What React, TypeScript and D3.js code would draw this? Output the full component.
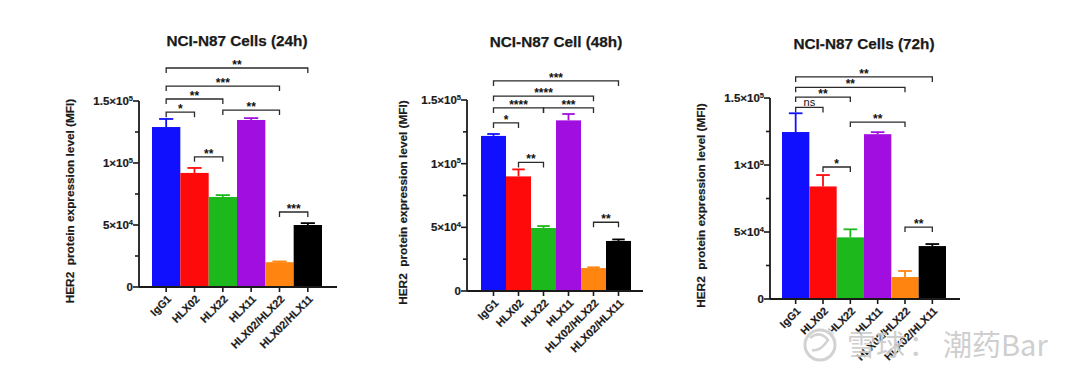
import React from "react";
import * as d3 from "d3";

const categories = ["IgG1", "HLX02", "HLX22", "HLX11", "HLX02/HLX22", "HLX02/HLX11"];
const barColors = ["#1010ff", "#ff0a0a", "#1cb81c", "#a00ee0", "#ff8410", "#000000"];

const yTicksMajor = [0, 50000, 100000, 150000];
const yTickMantissa = ["0", "5×10", "1×10", "1.5×10"];
const yTickExp = ["", "4", "5", "5"];
const yTicksMinor = [25000, 75000, 125000];

const titles = ["NCI-N87 Cells (24h)", "NCI-N87 Cell (48h)", "NCI-N87 Cells (72h)"];

const means24 = [129000, 92000, 72600, 134700, 20000, 50000];
const err24 = [6500, 4000, 1500, 1500, 600, 1500];
const means48 = [121800, 90000, 49500, 134000, 18000, 39300];
const err48 = [1500, 5500, 1500, 5000, 600, 1200];
const means72 = [124600, 84000, 46000, 123000, 16400, 39500];
const err72 = [14000, 8500, 6000, 1500, 4500, 1500];

// [from, to, bracket level (MFI), label]
const brackets24: [string, string, number, string][] = [
  ["IgG1", "HLX02/HLX11", 176600, "**"],
  ["IgG1", "HLX02/HLX22", 162000, "***"],
  ["IgG1", "HLX22", 151600, "**"],
  ["IgG1", "HLX02", 141000, "*"],
  ["HLX22", "HLX02/HLX22", 142700, "**"],
  ["HLX02", "HLX22", 105000, "**"],
  ["HLX02/HLX22", "HLX02/HLX11", 60500, "***"],
];
const brackets48: [string, string, number, string][] = [
  ["IgG1", "HLX02/HLX11", 165000, "***"],
  ["IgG1", "HLX02/HLX22", 153000, "****"],
  ["IgG1", "HLX22", 143800, "****"],
  ["HLX22", "HLX02/HLX22", 143800, "***"],
  ["IgG1", "HLX02", 132000, "*"],
  ["HLX02", "HLX22", 101000, "**"],
  ["HLX02/HLX22", "HLX02/HLX11", 54000, "**"],
];
const brackets72: [string, string, number, string][] = [
  ["IgG1", "HLX02/HLX11", 165700, "**"],
  ["IgG1", "HLX02/HLX22", 158000, "**"],
  ["IgG1", "HLX22", 150700, "**"],
  ["IgG1", "HLX02", 143000, "ns"],
  ["HLX22", "HLX02/HLX22", 132000, "**"],
  ["HLX02", "HLX22", 98500, "*"],
  ["HLX02/HLX22", "HLX02/HLX11", 53700, "**"],
];

const layouts = [
  { axisX: 139, xEnd: 337, barL: 152, barR: 322, y0: 287, yTop: 101, labelX: 70, titleY: 46 },
  { axisX: 467, xEnd: 643, barL: 481, barR: 631, y0: 291, yTop: 100, labelX: 403, titleY: 47 },
  { axisX: 770, xEnd: 960, barL: 782, barR: 946, y0: 299, yTop: 98, labelX: 701, titleY: 49 },
];

const FONT = "'Liberation Sans', Arial, Helvetica, sans-serif";
const INK = "#1a1a1a";

function Panel({ idx, means, errs, brackets }: { idx: number; means: number[]; errs: number[]; brackets: [string, string, number, string][] }) {
  const L = layouts[idx];
  const x = d3.scaleBand<string>().domain(categories).range([L.barL, L.barR]).padding(0);
  const y = d3.scaleLinear().domain([0, 150000]).range([L.y0, L.yTop]);
  const bw = x.bandwidth();
  const cx = (c: string) => (x(c) as number) + bw / 2;
  return (
    <g fontFamily={FONT}>
      <text x={(L.barL + L.barR) / 2} y={L.titleY} textAnchor="middle" fontWeight="bold" fontSize={15.3} fill={INK} stroke={INK} strokeWidth={0.25}>
        {titles[idx]}
      </text>
      {/* bars */}
      {categories.map((c, i) => (
        <g key={c}>
          <rect x={x(c)} y={y(means[i])} width={bw} height={L.y0 - y(means[i])} fill={barColors[i]} />
          <line x1={cx(c)} x2={cx(c)} y1={y(means[i])} y2={y(means[i] + errs[i])} stroke={barColors[i]} strokeWidth={1.8} />
          <line x1={cx(c) - bw * 0.25} x2={cx(c) + bw * 0.25} y1={y(means[i] + errs[i])} y2={y(means[i] + errs[i])} stroke={barColors[i]} strokeWidth={1.8} />
        </g>
      ))}
      {/* y axis */}
      <line x1={L.axisX} x2={L.axisX} y1={y(150000)} y2={L.y0} stroke={INK} strokeWidth={1.8} />
      {yTicksMajor.map((v, i) => (
        <g key={v}>
          <line x1={L.axisX - 6} x2={L.axisX} y1={y(v)} y2={y(v)} stroke={INK} strokeWidth={1.6} />
          <text x={L.axisX - 6} y={y(v)} dy="0.35em" textAnchor="end" fontSize={11.5} fontWeight="bold" fill={INK} stroke={INK} strokeWidth={0.2}>
            {yTickMantissa[i]}
            {yTickExp[i] && (
              <tspan fontSize={7.5} dy={-4.5}>
                {yTickExp[i]}
              </tspan>
            )}
          </text>
        </g>
      ))}
      {yTicksMinor.map((v) => (
        <line key={v} x1={L.axisX - 4} x2={L.axisX} y1={y(v)} y2={y(v)} stroke={INK} strokeWidth={1.6} />
      ))}
      {/* x axis */}
      <line x1={L.axisX} x2={L.xEnd} y1={L.y0} y2={L.y0} stroke={INK} strokeWidth={1.8} />
      {categories.map((c) => (
        <g key={c}>
          <line x1={cx(c)} x2={cx(c)} y1={L.y0} y2={L.y0 + 5} stroke={INK} strokeWidth={1.6} />
          <text
            transform={`translate(${cx(c) + 3},${L.y0 + 10}) rotate(-45)`}
            textAnchor="end"
            dy="0.35em"
            fontSize={10.8}
            fontWeight="bold"
            fill={INK}
            stroke={INK}
            strokeWidth={0.2}
          >
            {c}
          </text>
        </g>
      ))}
      {/* y label */}
      <text
        transform={`translate(${L.labelX},${(L.y0 + L.yTop) / 2 + 7}) rotate(-90)`}
        textAnchor="middle"
        dy="0.35em"
        fontSize={11.8}
        fontWeight="bold"
        fill={INK}
        stroke={INK}
        strokeWidth={0.2}
        xmlSpace="preserve"
      >
        {"HER2  protein expression level (MFI)"}
      </text>
      {/* significance brackets */}
      {brackets.map(([a, b, lvl, lab], k) => {
        const x1 = cx(a);
        const x2 = cx(b);
        const yy = y(lvl);
        const ns = lab === "ns";
        return (
          <g key={k}>
            <path d={`M${x1},${yy + 5}V${yy}H${x2}V${yy + 5}`} fill="none" stroke="#2a2a2a" strokeWidth={1.3} />
            <text
              x={(x1 + x2) / 2}
              y={ns ? yy - 1 : yy + 1}
              textAnchor="middle"
              fontSize={ns ? 11 : 12}
              fontWeight={ns ? "normal" : "bold"}
              fill="#111"
            >
              {lab}
            </text>
          </g>
        );
      })}
    </g>
  );
}

export default function App() {
  return (
    <svg width={1080} height={377} style={{ position: "absolute", left: 0, top: 0, background: "#fff" }}>
      <rect width={1080} height={377} fill="#fff" />
      <Panel idx={0} means={means24} errs={err24} brackets={brackets24} />
      <Panel idx={1} means={means48} errs={err48} brackets={brackets48} />
      <Panel idx={2} means={means72} errs={err72} brackets={brackets72} />
      {/* watermark */}
      <g opacity={0.92}>
        <circle cx={820} cy={345} r={15} fill="none" stroke="#fff" strokeWidth={6} />
        <circle cx={820} cy={345} r={15} fill="none" stroke="#cfcfcf" strokeWidth={3} />
        <path d="M810,338 Q820,330 828,340 Q820,352 812,350" fill="none" stroke="#cfcfcf" strokeWidth={2.5} />
        <text x={847} y={356} fontSize={29} fontFamily="'Noto Sans CJK SC', sans-serif" fill="#cccccc" stroke="#fff" strokeWidth={0.6} paintOrder="stroke">
          雪球
        </text>
        <text x={923} y={356} textAnchor="middle" fontSize={29} fontFamily="'Noto Sans CJK SC', sans-serif" fill="#cccccc">
          ：
        </text>
        <text x={943} y={356} fontSize={29} fontFamily="'Noto Sans CJK SC', sans-serif" fill="#cccccc">
          潮药Bar
        </text>
      </g>
    </svg>
  );
}
